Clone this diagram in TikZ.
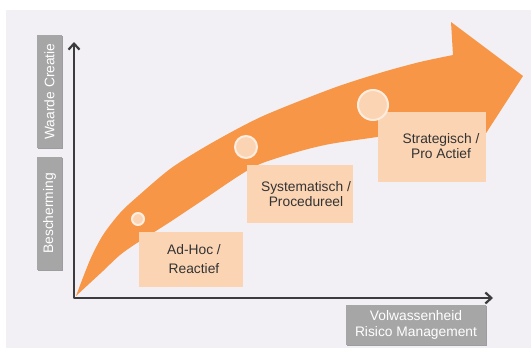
\documentclass[tikz,border=0pt]{standalone}
\usepackage{fontspec}
\setmainfont{Liberation Sans}
\usetikzlibrary{arrows.meta,shadows}
\definecolor{bg}{HTML}{F2F0F4}
\definecolor{bandorange}{HTML}{F79646}
\definecolor{peach}{HTML}{FBD4B4}
\definecolor{ringc}{HTML}{FEEDDF}
\definecolor{labelgray}{HTML}{A6A6A6}
\definecolor{axisc}{HTML}{3C3C3E}
\definecolor{txt}{HTML}{333333}
\tikzset{
  peachbox/.style={fill=peach, draw=none, rectangle, inner sep=0pt},
  steptext/.style={text=txt, align=center, inner sep=0pt},
  graybox/.style={fill=labelgray, draw=none, rectangle, inner sep=0pt, text=white, align=center,
     drop shadow={shadow xshift=1pt, shadow yshift=-1.2pt, opacity=0.35, fill=black}},
  dot/.style={circle, fill=peach, draw=ringc, line width=2pt, inner sep=0pt},
  axisline/.style={draw=axisc, line width=2.4pt, line join=round,
     {Straight Barb[length=6pt,width=11pt,line width=2.2pt]}-{Straight Barb[length=6pt,width=11pt,line width=2.2pt]}}
}
\begin{document}
\begin{tikzpicture}[x=1pt,y=-1pt]
\useasboundingbox (0,0) rectangle (531,348);
\fill[white] (0,0) rectangle (531,348);
\fill[bg] (6,10) rectangle (531,348);

% orange band arrow
\fill[bandorange]
  plot[smooth, tension=0.5] coordinates {(76,296) (90,260) (103,235) (120,213) (137,197) (170,169) (203,148) (237,129) (263,116) (297,102) (339,86) (383,72) (420,62) (453,55)}
  -- (451,22) -- (523,76) -- (470,158) -- (458,124)
  -- plot[smooth, tension=0.5] coordinates {(458,124) (420,130) (377,137) (330,144) (297,152) (260,164) (237,177) (203,200) (170,222) (137,243) (120,255) (103,271) (90,283) (76,296)}
  -- cycle;

% axes
\coordinate (origin) at (74,298);
\coordinate (ytip) at (74,42);
\coordinate (xtip) at (493,298);
\draw[axisline] (ytip) -- (origin) -- (xtip);

% axis labels
\node[graybox, minimum width=113pt, minimum height=25pt, rotate=90, font=\fontsize{13.8}{16}\selectfont] (waarde) at (49.5,91.5) {Waarde Creatie};
\node[graybox, minimum width=113pt, minimum height=25pt, rotate=90, font=\fontsize{13.8}{16}\selectfont] (bescherming) at (49.5,213.5) {Bescherming};
\node[graybox, minimum width=140pt, minimum height=40pt, font=\fontsize{13.8}{15.7}\selectfont] (volw) at (416,325) {Volwassenheid\\Risico Management};

% stage boxes
\node[peachbox, minimum width=104pt, minimum height=55pt] (adhocbox) at (191,259.5) {};
\node[steptext, font=\fontsize{13.8}{19}\selectfont] (adhoc) at (194,259.5) {Ad-Hoc /\\Reactief};
\node[peachbox, minimum width=106pt, minimum height=58pt] (sysbox) at (300,194) {};
\node[steptext, font=\fontsize{13.8}{14.3}\selectfont] (sys) at (306,194) {Systematisch /\\Procedureel};
\node[peachbox, minimum width=108pt, minimum height=70pt] (stratbox) at (432,147) {};
\node[steptext, font=\fontsize{13.8}{15}\selectfont] (strat) at (441,146) {Strategisch /\\Pro Actief};

% dots
\node[dot, minimum size=12pt] (dot1) at (138,219) {};
\node[dot, minimum size=22pt] (dot2) at (246,147) {};
\node[dot, minimum size=30pt] (dot3) at (373,105) {};
\end{tikzpicture}
\end{document}
